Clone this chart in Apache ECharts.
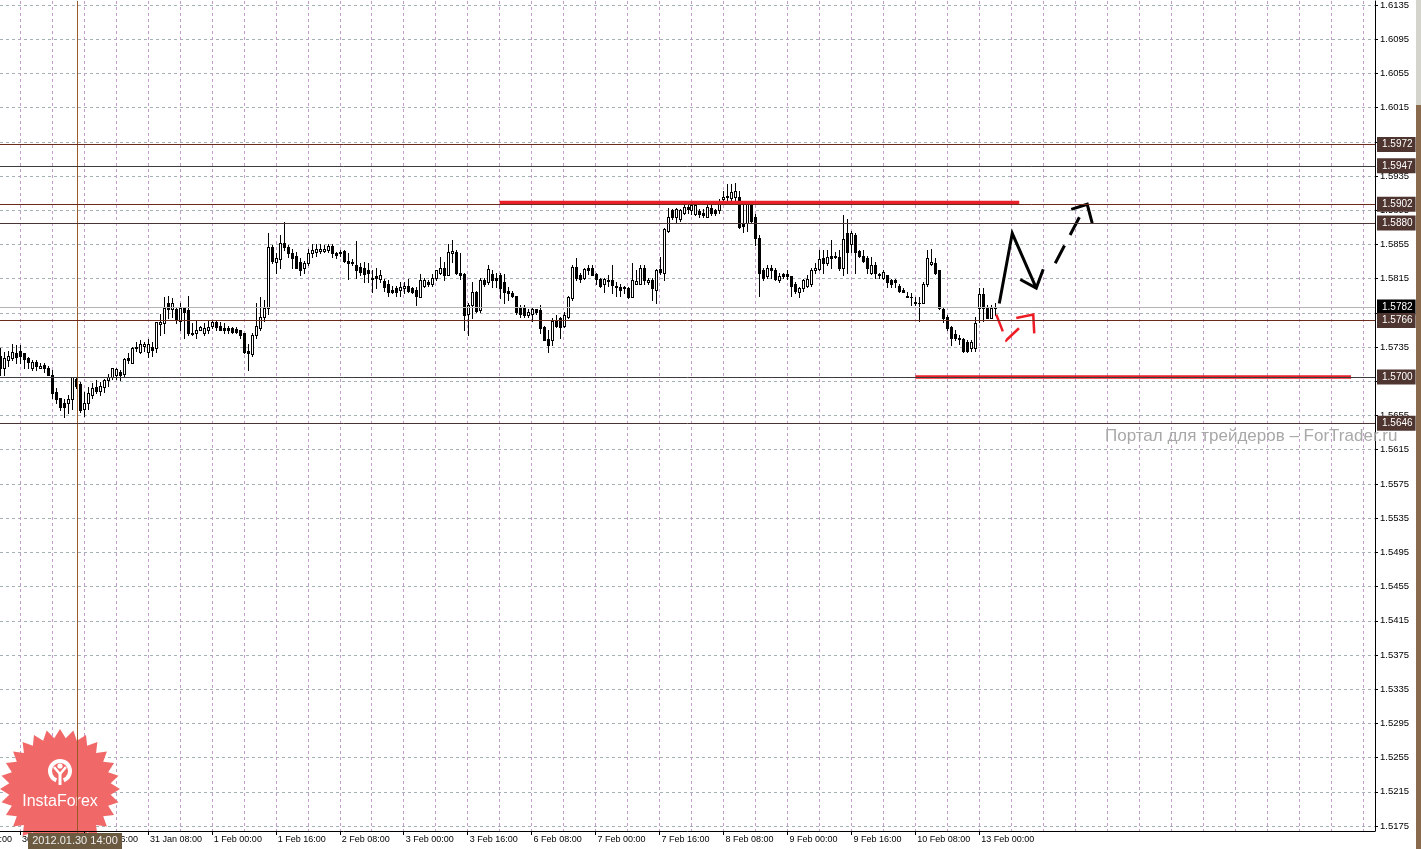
<!DOCTYPE html>
<html><head><meta charset="utf-8">
<script src="https://cdn.jsdelivr.net/npm/echarts@6/dist/echarts.min.js"></script>
<style>html,body{margin:0;padding:0;background:#fff;overflow:hidden}#c{width:1421px;height:849px}</style>
</head><body><div id="c"></div>
<script>
// ---- data (GBPUSD H1) ----
const opens=[1.5725,1.5710,1.5720,1.5722,1.5728,1.5731,1.5728,1.5722,1.5711,1.5717,1.5711,1.5714,1.5711,1.5702,1.5683,1.5675,1.5670,1.5670,1.5674,1.5698,
1.5692,1.5663,1.5670,1.5679,1.5688,1.5684,1.5688,1.5696,1.5700,1.5702,1.5706,1.5704,1.5722,1.5716,1.5735,1.5729,1.5736,1.5729,1.5735,1.5734,
1.5762,1.5763,1.5786,1.5780,1.5780,1.5766,1.5781,1.5778,1.5752,1.5751,1.5755,1.5751,1.5755,1.5760,1.5764,1.5760,1.5757,1.5757,1.5757,1.5756,
1.5755,1.5751,1.5731,1.5727,1.5749,1.5757,1.5770,1.5781,1.5852,1.5835,1.5838,1.5857,1.5852,1.5845,1.5842,1.5834,1.5827,1.5833,1.5845,1.5846,
1.5847,1.5847,1.5849,1.5853,1.5845,1.5846,1.5847,1.5836,1.5834,1.5831,1.5829,1.5827,1.5825,1.5816,1.5818,1.5815,1.5812,1.5809,1.5802,1.5804,
1.5802,1.5804,1.5806,1.5804,1.5802,1.5794,1.5807,1.5811,1.5809,1.5816,1.5822,1.5828,1.5819,1.5845,1.5846,1.5822,1.5821,1.5774,1.5784,1.5799,
1.5778,1.5813,1.5811,1.5821,1.5816,1.5819,1.5811,1.5801,1.5798,1.5795,1.5781,1.5781,1.5772,1.5774,1.5779,1.5778,1.5758,1.5745,1.5743,1.5766,
1.5769,1.5760,1.5770,1.5792,1.5829,1.5819,1.5816,1.5828,1.5828,1.5821,1.5815,1.5809,1.5812,1.5813,1.5807,1.5805,1.5805,1.5804,1.5794,1.5809,
1.5809,1.5827,1.5811,1.5813,1.5802,1.5826,1.5822,1.5871,1.5895,1.5887,1.5885,1.5892,1.5899,1.5895,1.5891,1.5894,1.5892,1.5887,1.5898,1.5895,
1.5895,1.5908,1.5910,1.5909,1.5910,1.5911,1.5880,1.5880,1.5903,1.5887,1.5863,1.5825,1.5818,1.5827,1.5825,1.5814,1.5821,1.5820,1.5818,1.5809,
1.5799,1.5804,1.5807,1.5809,1.5825,1.5826,1.5839,1.5833,1.5842,1.5840,1.5840,1.5828,1.5868,1.5856,1.5866,1.5847,1.5842,1.5839,1.5822,1.5831,
1.5821,1.5816,1.5819,1.5813,1.5813,1.5807,1.5802,1.5795,1.5794,1.5788,1.5786,1.5787,1.5809,1.5832,1.5833,1.5825,1.5780,1.5770,1.5758,1.5750,
1.5744,1.5745,1.5741,1.5734,1.5734,1.5781,1.5797,1.5781,1.5769,1.5781];
const closes=[1.5710,1.5722,1.5725,1.5729,1.5724,1.5725,1.5721,1.5717,1.5717,1.5713,1.5713,1.5710,1.5702,1.5681,1.5674,1.5665,1.5665,1.5674,1.5700,1.5690,
1.5661,1.5670,1.5681,1.5687,1.5684,1.5690,1.5696,1.5700,1.5710,1.5709,1.5702,1.5721,1.5720,1.5734,1.5734,1.5739,1.5739,1.5739,1.5732,1.5764,
1.5764,1.5781,1.5780,1.5787,1.5767,1.5781,1.5776,1.5751,1.5750,1.5755,1.5758,1.5757,1.5759,1.5764,1.5758,1.5755,1.5755,1.5755,1.5753,1.5753,
1.5749,1.5729,1.5728,1.5749,1.5760,1.5770,1.5781,1.5852,1.5836,1.5839,1.5857,1.5852,1.5845,1.5839,1.5828,1.5825,1.5833,1.5845,1.5848,1.5850,
1.5850,1.5850,1.5853,1.5845,1.5843,1.5845,1.5836,1.5833,1.5833,1.5825,1.5823,1.5821,1.5822,1.5815,1.5816,1.5819,1.5805,1.5799,1.5800,1.5800,
1.5805,1.5807,1.5801,1.5799,1.5795,1.5813,1.5814,1.5809,1.5816,1.5825,1.5828,1.5819,1.5846,1.5847,1.5822,1.5819,1.5772,1.5784,1.5799,1.5777,
1.5814,1.5809,1.5826,1.5813,1.5813,1.5804,1.5799,1.5798,1.5795,1.5776,1.5774,1.5772,1.5776,1.5779,1.5776,1.5757,1.5743,1.5737,1.5766,1.5760,
1.5758,1.5772,1.5794,1.5829,1.5816,1.5815,1.5826,1.5825,1.5819,1.5815,1.5807,1.5815,1.5813,1.5808,1.5805,1.5802,1.5804,1.5793,1.5813,1.5812,
1.5828,1.5813,1.5814,1.5804,1.5825,1.5823,1.5873,1.5887,1.5887,1.5896,1.5895,1.5899,1.5896,1.5901,1.5901,1.5891,1.5890,1.5899,1.5892,1.5892,
1.5903,1.5910,1.5912,1.5916,1.5918,1.5875,1.5877,1.5903,1.5883,1.5863,1.5822,1.5816,1.5828,1.5825,1.5815,1.5818,1.5818,1.5818,1.5807,1.5801,
1.5804,1.5813,1.5815,1.5825,1.5828,1.5838,1.5833,1.5840,1.5839,1.5841,1.5828,1.5861,1.5846,1.5868,1.5846,1.5842,1.5836,1.5828,1.5831,1.5822,
1.5819,1.5823,1.5811,1.5809,1.5811,1.5801,1.5800,1.5793,1.5793,1.5786,1.5787,1.5809,1.5839,1.5835,1.5822,1.5781,1.5769,1.5757,1.5746,1.5746,
1.5746,1.5731,1.5731,1.5741,1.5763,1.5797,1.5781,1.5769,1.5781,1.5782];
const lows=[1.5702,1.5702,1.5713,1.5720,1.5716,1.5716,1.5710,1.5711,1.5708,1.5708,1.5710,1.5706,1.5702,1.5676,1.5670,1.5661,1.5653,1.5658,1.5663,1.5687,
1.5659,1.5655,1.5663,1.5676,1.5681,1.5679,1.5682,1.5690,1.5698,1.5698,1.5696,1.5700,1.5716,1.5716,1.5731,1.5728,1.5731,1.5723,1.5725,1.5729,
1.5749,1.5752,1.5769,1.5770,1.5763,1.5755,1.5746,1.5749,1.5749,1.5746,1.5755,1.5749,1.5751,1.5757,1.5755,1.5755,1.5752,1.5752,1.5752,1.5752,
1.5746,1.5728,1.5708,1.5725,1.5746,1.5755,1.5766,1.5774,1.5833,1.5822,1.5828,1.5848,1.5840,1.5828,1.5827,1.5819,1.5822,1.5831,1.5840,1.5842,
1.5845,1.5846,1.5846,1.5840,1.5839,1.5842,1.5834,1.5815,1.5831,1.5816,1.5819,1.5811,1.5811,1.5799,1.5804,1.5811,1.5801,1.5795,1.5798,1.5795,
1.5795,1.5798,1.5799,1.5798,1.5784,1.5793,1.5805,1.5807,1.5807,1.5813,1.5821,1.5813,1.5819,1.5834,1.5821,1.5815,1.5755,1.5749,1.5769,1.5776,
1.5776,1.5807,1.5809,1.5805,1.5805,1.5792,1.5787,1.5790,1.5793,1.5774,1.5770,1.5770,1.5770,1.5766,1.5774,1.5752,1.5743,1.5729,1.5737,1.5758,
1.5746,1.5758,1.5769,1.5790,1.5813,1.5811,1.5815,1.5821,1.5819,1.5809,1.5805,1.5799,1.5807,1.5798,1.5795,1.5795,1.5798,1.5792,1.5793,1.5809,
1.5809,1.5809,1.5809,1.5790,1.5787,1.5821,1.5813,1.5869,1.5885,1.5880,1.5883,1.5891,1.5892,1.5891,1.5889,1.5887,1.5887,1.5887,1.5889,1.5889,
1.5892,1.5904,1.5904,1.5906,1.5906,1.5874,1.5869,1.5871,1.5880,1.5854,1.5795,1.5813,1.5816,1.5816,1.5813,1.5811,1.5816,1.5815,1.5795,1.5798,
1.5793,1.5801,1.5805,1.5807,1.5822,1.5825,1.5822,1.5831,1.5828,1.5839,1.5825,1.5819,1.5822,1.5846,1.5822,1.5840,1.5834,1.5822,1.5821,1.5816,
1.5816,1.5815,1.5805,1.5805,1.5805,1.5799,1.5799,1.5793,1.5784,1.5784,1.5766,1.5786,1.5807,1.5831,1.5821,1.5780,1.5764,1.5755,1.5737,1.5743,
1.5739,1.5729,1.5729,1.5731,1.5731,1.5764,1.5766,1.5769,1.5769,1.5772];
const highs=[1.5734,1.5729,1.5731,1.5739,1.5737,1.5737,1.5728,1.5723,1.5720,1.5720,1.5716,1.5716,1.5713,1.5708,1.5687,1.5676,1.5674,1.5679,1.5700,1.5700,
1.5694,1.5682,1.5688,1.5693,1.5696,1.5694,1.5698,1.5704,1.5711,1.5710,1.5708,1.5722,1.5728,1.5735,1.5741,1.5743,1.5741,1.5745,1.5741,1.5764,
1.5774,1.5793,1.5795,1.5792,1.5781,1.5786,1.5781,1.5795,1.5763,1.5766,1.5760,1.5763,1.5766,1.5766,1.5766,1.5764,1.5763,1.5760,1.5759,1.5758,
1.5755,1.5751,1.5739,1.5751,1.5786,1.5793,1.5790,1.5868,1.5854,1.5845,1.5866,1.5881,1.5854,1.5850,1.5846,1.5839,1.5836,1.5850,1.5856,1.5856,
1.5856,1.5854,1.5856,1.5855,1.5846,1.5849,1.5848,1.5845,1.5838,1.5859,1.5833,1.5834,1.5833,1.5825,1.5828,1.5825,1.5815,1.5813,1.5807,1.5807,
1.5811,1.5811,1.5815,1.5805,1.5805,1.5821,1.5816,1.5814,1.5821,1.5825,1.5840,1.5834,1.5856,1.5860,1.5848,1.5845,1.5822,1.5786,1.5811,1.5801,
1.5816,1.5816,1.5831,1.5825,1.5822,1.5822,1.5821,1.5805,1.5801,1.5795,1.5784,1.5784,1.5780,1.5781,1.5780,1.5784,1.5760,1.5755,1.5769,1.5772,
1.5770,1.5776,1.5795,1.5831,1.5839,1.5822,1.5828,1.5831,1.5831,1.5822,1.5816,1.5816,1.5819,1.5831,1.5811,1.5809,1.5807,1.5805,1.5833,1.5825,
1.5831,1.5831,1.5816,1.5816,1.5826,1.5840,1.5874,1.5898,1.5897,1.5898,1.5897,1.5903,1.5903,1.5903,1.5903,1.5897,1.5897,1.5901,1.5901,1.5897,
1.5908,1.5918,1.5926,1.5926,1.5927,1.5918,1.5901,1.5904,1.5904,1.5891,1.5866,1.5828,1.5831,1.5831,1.5828,1.5822,1.5822,1.5825,1.5818,1.5811,
1.5805,1.5815,1.5819,1.5828,1.5833,1.5848,1.5848,1.5848,1.5860,1.5846,1.5848,1.5889,1.5885,1.5871,1.5868,1.5848,1.5848,1.5842,1.5840,1.5834,
1.5822,1.5825,1.5819,1.5815,1.5815,1.5809,1.5804,1.5799,1.5798,1.5793,1.5793,1.5811,1.5848,1.5850,1.5839,1.5825,1.5781,1.5772,1.5760,1.5755,
1.5749,1.5746,1.5743,1.5743,1.5770,1.5804,1.5804,1.5784,1.5784,1.5786];
const yTicks=[1.5175,1.5215,1.5255,1.5295,1.5335,1.5375,1.5415,1.5455,1.5495,1.5535,1.5575,1.5615,1.5655,1.5695,1.5735,1.5775,1.5815,1.5855,1.5895,1.5935,1.5975,1.6015,1.6055,1.6095,1.6135];
const levelLines=[1.5972,1.5947,1.5902,1.5880,1.5782,1.5766,1.5700,1.5646];
const redLevels=[{from:125,to:255,price:1.5904},{from:229,to:338,price:1.5700}];
const blackPath=[[250.0,1.5786],[253.25,1.5868],[259.25,1.5804]];
const blackHead=[[255.25,1.5814],[259.25,1.5804],[261.0,1.5826]];
const blackDashPath=[[264.0,1.5833],[270.5,1.5891]];
const blackDashHead=[[268.0,1.5896],[272.0,1.5902],[273.25,1.5880]];
const redDashPath=[[249.25,1.5773],[251.75,1.5743],[256.5,1.5764]];
const redHead=[[254.25,1.5769],[258.5,1.5773],[258.75,1.5751]];
const crosshairIndex=19.25;
const crosshairLabel='2012.01.30 14:00';
const watermark='Портал для трейдеров – ForTrader.ru';
const TOTAL_SLOTS=345; // bars + empty chart shift

// hourly categories (weekend skipped), starting Fri 27 Jan 2012 19:00
const MONTHS=['Jan','Feb','Mar'];
const categories=[];
(function(){
  let t=Date.UTC(2012,0,27,19);
  for(let k=0;k<opens.length;k++){
    let d=new Date(t);
    if(d.getUTCDay()===6){t+=48*3600e3;d=new Date(t);}
    const hh=String(d.getUTCHours()).padStart(2,'0');
    categories.push(d.getUTCDate()+' '+MONTHS[d.getUTCMonth()]+' '+hh+':00');
    t+=3600e3;
  }
  while(categories.length<TOTAL_SLOTS) categories.push('');
})();
const nBars=opens.length;

// ---- styles ----
const levelColors=['#6b2a1c','#3c3c3c','#6b2a1c','#4a3434','#b4b4b4','#6b2a1c','#3c3c3c','#4a3434'];
const tagBg=['#4e3530','#4e3530','#4e3530','#4e3530','#000000','#4e3530','#4e3530','#4e3530'];
const FONT='"Liberation Sans", Arial, sans-serif';

const candleData=opens.map((o,i)=>[i,o,closes[i],lows[i],highs[i]]);

function candleItem(params,api){
  const i=api.value(0),o=api.value(1),c=api.value(2),l=api.value(3),h=api.value(4);
  const x=Math.round(api.coord([i,o])[0]);
  const yo=Math.round(api.coord([i,o])[1]),yc=Math.round(api.coord([i,c])[1]);
  const yl=Math.round(api.coord([i,l])[1]),yh=Math.round(api.coord([i,h])[1]);
  const top=Math.min(yo,yc),bot=Math.max(yo,yc);
  const ch=[
    {type:'rect',shape:{x:x,y:yh,width:1,height:Math.max(yl-yh+1,1)},style:{fill:'#000'}},
    {type:'rect',shape:{x:x-1,y:top,width:3,height:bot-top+1},style:{fill:'#000'}}
  ];
  if(c>o && bot-top>=2) ch.push({type:'rect',shape:{x:x,y:top+1,width:1,height:bot-top-1},style:{fill:'#fff'}});
  return {type:'group',children:ch};
}

function pt(api,ix,price){
  const i0=Math.floor(ix),f=ix-i0;
  const a=api.coord([i0,price]),b=api.coord([i0+1,price]);
  return [a[0]+(b[0]-a[0])*f,a[1]];
}
function annotItem(params,api){
  const cs=params.coordSys;
  const pl=(arr,stroke,w,dash)=>({type:'polyline',shape:{points:arr.map(p=>pt(api,p[0],p[1]))},
    style:{stroke:stroke,lineWidth:w,fill:null,lineDash:dash||null,lineCap:'butt',lineJoin:'miter'}});
  const ch=[];
  const cx=Math.round(pt(api,crosshairIndex,1.6)[0]);
  ch.push({type:'rect',shape:{x:cx,y:cs.y,width:1,height:cs.height+18},style:{fill:'#9a5a28'}});
  redLevels.forEach(r=>ch.push(pl([[r.from,r.price],[r.to,r.price]],'#e8202a',3.5)));
  ch.push(pl(blackPath,'#000',3));
  ch.push(pl(blackHead,'#000',3));
  ch.push(pl(blackDashPath,'#000',3,[20,12]));
  ch.push(pl(blackDashHead,'#000',3));
  ch.push(pl(redDashPath,'#ee1c24',2.5,[18,9]));
  ch.push(pl(redHead,'#ee1c24',2.5));
  return {type:'group',children:ch};
}

// logo shape
function starPoints(cx,cy,R,r,n){
  const pts=[];
  for(let k=0;k<2*n;k++){
    const a=Math.PI*k/n-Math.PI/2, rr=(k%2===0)?R:r;
    pts.push([cx+rr*Math.cos(a),cy+rr*Math.sin(a)]);
  }
  return pts;
}

const chart=echarts.init(document.getElementById('c'),null,{renderer:'canvas'});
chart.setOption({
  animation:false,
  backgroundColor:'#ffffff',
  grid:{left:0,right:46,top:0,bottom:18,containLabel:false},
  xAxis:[
    {type:'category',data:categories,boundaryGap:false,position:'top',z:0,
     axisLine:{show:false},axisTick:{show:false},axisLabel:{show:false},
     splitLine:{show:true,interval:(idx)=>((idx-5)%8===0),lineStyle:{color:'#c39ccc',type:[3,3],width:1}}},
    {type:'category',data:categories,boundaryGap:false,position:'bottom',z:5,
     axisLine:{show:true,lineStyle:{color:'#000',width:1}},
     axisTick:{show:true,length:4,interval:(idx)=>(idx<nBars&&(idx-5)%16===0),lineStyle:{color:'#000'}},
     axisLabel:{show:true,interval:(idx)=>(idx<nBars&&(idx-5)%16===0),align:'left',margin:4,padding:[0,0,0,2],
       color:'#000',fontSize:9,fontFamily:FONT},
     splitLine:{show:false}}
  ],
  yAxis:{type:'value',position:'right',min:1.51692,max:1.61397,z:0,
    axisLine:{show:true,lineStyle:{color:'#000',width:1}},
    axisTick:{show:true,length:3,customValues:yTicks,lineStyle:{color:'#000'}},
    axisLabel:{customValues:yTicks,formatter:(v)=>Number(v).toFixed(4),color:'#000',fontSize:9.5,margin:5,fontFamily:FONT},
    splitLine:{show:true,lineStyle:{color:'#a3b0b4',type:[3,3],width:1}}},
  graphic:[
    {type:'text',x:-40,y:840,z:6,style:{text:'27 Jan 08:00',fill:'#000',font:'9px '+FONT,verticalAlign:'middle'}},
    {type:'polygon',z:1,shape:{points:starPoints(60,789,60,51,28)},style:{fill:'#f06868'}},
    {type:'arc',z:1,shape:{cx:60,cy:771,r:10,startAngle:Math.PI*0.62,endAngle:Math.PI*2.38},style:{stroke:'#fff',lineWidth:4,fill:null}},
    {type:'circle',z:1,shape:{cx:60,cy:766,r:2.6},style:{fill:'#fff'}},
    {type:'polyline',z:1,shape:{points:[[54,767],[60,774],[66,767]]},style:{stroke:'#fff',lineWidth:2.5,fill:null}},
    {type:'polyline',z:1,shape:{points:[[60,774],[60,785]]},style:{stroke:'#fff',lineWidth:3,fill:null}},
    {type:'text',z:1,x:60,y:802,style:{text:'InstaForex',fill:'#fff',font:'16px '+FONT,align:'center',verticalAlign:'middle'}},
    {type:'text',z:6,x:1105,y:436,style:{text:watermark,fill:'#a8a8a8',font:'17px '+FONT,verticalAlign:'middle'}},
    {type:'rect',z:10,shape:{x:28,y:833,width:94,height:16},style:{fill:'#6b5a40'}},
    {type:'text',z:11,x:75,y:841,style:{text:crosshairLabel,fill:'#eeeeee',font:'11px '+FONT,align:'center',verticalAlign:'middle'}},
    {type:'rect',z:10,shape:{x:1416,y:0,width:5,height:849},style:{fill:'#d4d4cc'}},
    {type:'rect',z:10,shape:{x:1416,y:105,width:5,height:744},style:{fill:'#8a6a4c'}}
  ],
  series:[
    {type:'custom',name:'candles',xAxisIndex:1,renderItem:candleItem,data:candleData,clip:true,z:3,
     encode:{x:0,y:[1,2,3,4]},silent:true,
     markLine:{symbol:'none',silent:true,animation:false,precision:4,
       lineStyle:{type:'solid',width:1},
       label:{show:true,position:'end',distance:2,formatter:(p)=>Number(p.value).toFixed(4),color:'#fff',
         padding:[3,3,2,5],lineHeight:10,fontSize:10,fontFamily:FONT},
       emphasis:{disabled:true},
       data:levelLines.map((v,k)=>({yAxis:v,lineStyle:{color:levelColors[k]},label:{backgroundColor:tagBg[k]}}))}},
    {type:'custom',name:'annotations',xAxisIndex:1,renderItem:annotItem,data:[[0,1.6]],clip:false,z:4,silent:true,
     encode:{x:0,y:1}}
  ]
});
</script></body></html>
